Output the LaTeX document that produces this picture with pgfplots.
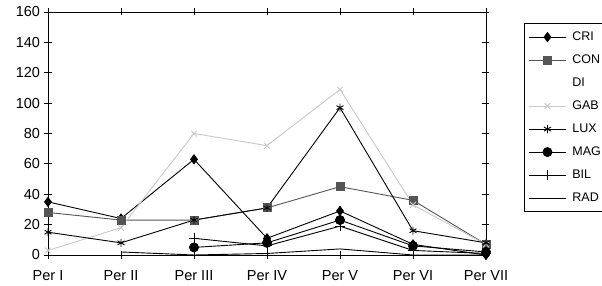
\documentclass[border=0pt]{standalone}
\usepackage{pgfplots}
\pgfplotsset{compat=1.18}
\usepackage{fontspec}
\setmainfont{Liberation Sans}
\definecolor{congrey}{RGB}{85,85,85}
\definecolor{gabgrey}{RGB}{200,200,200}
\begin{document}
\begin{tikzpicture}[x=1bp,y=1bp]
\begin{axis}[
  scale only axis,
  width=438bp, height=243bp,
  at={(48bp,31bp)}, anchor=south west,
  xmin=0, xmax=6, ymin=0, ymax=160,
  xtick={0,1,2,3,4,5,6},
  xticklabels={Per I,Per II,Per III,Per IV,Per V,Per VI,Per VII},
  ytick={0,20,...,160},
  tick align=center,
  major tick length=7bp,
  tick style={black, line width=0.8bp},
  axis line style={black, line width=0.8bp},
  /pgf/number format/assume math mode=true,
  ticklabel style={font=\fontsize{14.5bp}{16bp}\selectfont},
  xticklabel style={yshift=-9bp},
  yticklabel style={xshift=-1bp},
  unbounded coords=jump,
  every axis plot/.append style={line width=0.9bp},
  legend style={at={(1.087,0.955)}, anchor=north west, draw=black, line width=0.8bp,
    font=\fontsize{12.5bp}{14bp}\selectfont, inner xsep=4bp, inner ysep=7bp,
    row sep=9.5bp,
    nodes={inner sep=1bp, text height=9bp, text depth=2.5bp},
    /tikz/every odd column/.append style={column sep=5bp}},
  legend cell align=left,
  legend image code/.code={\draw[mark repeat=2,mark phase=2] plot coordinates {(0bp,0bp) (18.5bp,0bp) (37bp,0bp)};},
]
% CRI
\addplot[black, mark=diamond*, mark size=4.5bp, mark options={solid, fill=black}] coordinates {(0,35)(1,24)(2,63)(3,11)(4,29)(5,7)(6,0)};
\addlegendentry{CRI}
% CON
\addplot[congrey, mark=square*, mark size=4bp, mark options={solid, fill=congrey}] coordinates {(0,28)(1,23)(2,23)(3,31)(4,45)(5,36)(6,7)};
\addlegendentry{CON}
\addlegendimage{empty legend}
\addlegendentry{DI}
% GAB
\addplot[gabgrey, mark=x, mark size=4bp, mark options={solid}] coordinates {(0,3)(1,18)(2,80)(3,72)(4,109)(5,33)(6,7)};
\addlegendentry{GAB}
% LUX
\addplot[black, mark=asterisk, mark size=4bp, mark options={solid}] coordinates {(0,15)(1,8)(2,23)(3,31)(4,97)(5,16)(6,8)};
\addlegendentry{LUX}
% MAG
\addplot[black, mark=*, mark size=4.5bp, mark options={solid, fill=black}] coordinates {(0,nan)(1,nan)(2,5)(3,8)(4,23)(5,6)(6,2)};
\addlegendentry{MAG}
% BIL
\addplot[black, mark=+, mark size=5bp, mark options={solid}] coordinates {(0,nan)(1,nan)(2,11)(3,6)(4,19)(5,3)(6,1)};
\addlegendentry{BIL}
% RAD
\addplot[black, no marks] coordinates {(0,nan)(1,2)(2,0)(3,1)(4,4)(5,0)(6,0)};
\addlegendentry{RAD}
\end{axis}
\pgfresetboundingbox
\path[use as bounding box] (0,0) rectangle (602bp,286bp);
\end{tikzpicture}
\end{document}
